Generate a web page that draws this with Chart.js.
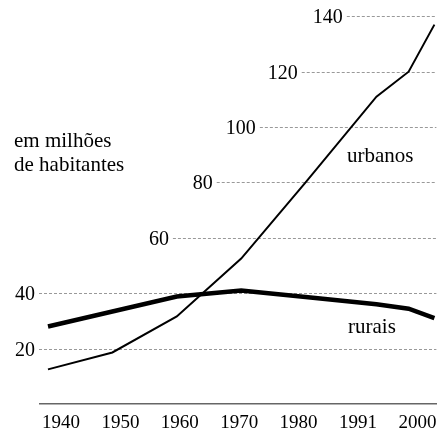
<!DOCTYPE html>
<html>
<head>
<meta charset="utf-8">
<script src="https://cdn.jsdelivr.net/npm/chart.js@4"></script>
<style>
  html, body { margin: 0; padding: 0; background: #fff; }
  #wrap { position: relative; width: 448px; height: 429px; }
</style>
</head>
<body>
<div id="wrap"><canvas id="chart" width="448" height="429"></canvas></div>
<script>
// dados: população do Brasil, em milhões
const years = [1940, 1950, 1960, 1970, 1980, 1991, 1996, 2000];
const urbanos = [12.5, 18.6, 31.6, 52.5, 80, 111, 120, 137];
const rurais = [28, 33.4, 38.8, 41, 38.6, 36, 34.4, 31];
const xLabels = ['1940', '1950', '1960', '1970', '1980', '1991', '2000'];
const yTicks = [20, 40, 60, 80, 100, 120, 140];

const serif = "'Liberation Serif', 'Times New Roman', serif";

const toPoints = (vals) => vals.map((v, i) => ({ x: years[i], y: v }));

// linhas tracejadas e rótulos do eixo y, que começam à direita da curva
const guides = {
  id: 'guides',
  beforeDatasetsDraw(chart, args, opts) {
    const { ctx, chartArea, scales: { x, y } } = chart;
    ctx.save();
    ctx.font = opts.size + 'px ' + serif;
    ctx.textAlign = 'right';
    ctx.textBaseline = 'middle';
    ctx.fillStyle = '#000';
    yTicks.forEach((v, i) => {
      const py = Math.round(y.getPixelForValue(v)) + 0.5;
      const from = opts.from[i] == null ? chartArea.left - 1 : x.getPixelForValue(opts.from[i]);
      ctx.strokeStyle = opts.color;
      ctx.lineWidth = 1;
      ctx.setLineDash([3, 2]);
      ctx.beginPath();
      ctx.moveTo(from, py);
      ctx.lineTo(chartArea.right, py);
      ctx.stroke();
      ctx.fillText(String(v), from - opts.gap, py + 1);
    });
    ctx.restore();
  },
  afterDraw(chart, args, opts) {
    const ctx = chart.ctx;
    ctx.save();
    ctx.font = opts.noteSize + 'px ' + serif;
    ctx.fillStyle = '#000';
    ctx.textAlign = 'left';
    ctx.textBaseline = 'alphabetic';
    ctx.fillText('em milhões', 14, 147);
    ctx.fillText('de habitantes', 14, 171);
    ctx.fillText('urbanos', 347, 162);
    ctx.fillText('rurais', 348, 333);
    ctx.restore();
  }
};

new Chart(document.getElementById('chart'), {
  type: 'line',
  data: {
    datasets: [
      {
        label: 'urbanos',
        data: toPoints(urbanos),
        borderColor: '#000',
        borderWidth: 2,
        pointRadius: 0,
        tension: 0,
        clip: false
      },
      {
        label: 'rurais',
        data: toPoints(rurais),
        borderColor: '#000',
        borderWidth: 4.5,
        pointRadius: 0,
        tension: 0,
        clip: false
      }
    ]
  },
  options: {
    responsive: false,
    animation: false,
    devicePixelRatio: 1,
    layout: { padding: { left: 40, right: 11, top: 8, bottom: 0 } },
    plugins: {
      legend: { display: false },
      tooltip: { enabled: false },
      guides: {
        size: 20,
        noteSize: 21,
        gap: 4,
        color: '#999',
        from: [null, null, 1959.4, 1966.2, 1972.9, 1979.4, 1986.4]
      }
    },
    scales: {
      x: { type: 'linear', min: 1938.76, max: 2000.31, display: false },
      x2: {
        type: 'linear',
        position: 'bottom',
        min: -0.353,
        max: 6.319,
        afterBuildTicks: (axis) => { axis.ticks = xLabels.map((_, i) => ({ value: i })); },
        afterFit: (axis) => { axis.height = 25; },
        ticks: {
          autoSkip: false,
          maxRotation: 0,
          padding: 11,
          color: '#000',
          font: { family: serif, size: 19, lineHeight: 0.8 },
          callback: (v) => xLabels[v]
        },
        grid: { display: false, drawTicks: false },
        border: { display: true, color: '#666', width: 1.5 }
      },
      y: { type: 'linear', min: 0, max: 143, display: false }
    }
  },
  plugins: [guides]
});
</script>
</body>
</html>
